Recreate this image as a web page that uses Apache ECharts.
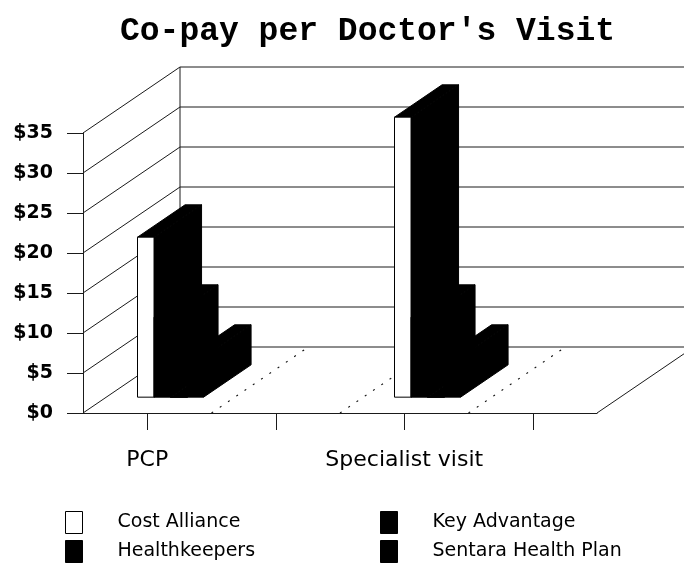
<!DOCTYPE html>
<html><head><meta charset="utf-8">
<script src="https://cdn.jsdelivr.net/npm/echarts@6/dist/echarts.min.js"></script>
<style>html,body{margin:0;padding:0;background:#fff}#c{width:684px;height:565px}</style>
</head><body><div id="c"></div>
<script>
// ---- data ----
const titleText = "Co-pay per Doctor's Visit";
const categories = ['PCP', '', 'Specialist visit', ''];
const seriesNames = ['Cost Alliance', 'Key Advantage', 'Healthkeepers', 'Sentara Health Plan'];
const costAlliance = [20, null, 35, null];
const keyAdvantage = [10, null, 10, null];
const healthkeepers = [0, null, 0, null];
const sentaraHealthPlan = [5, null, 5, null];
const yTicks = [0, 5, 10, 15, 20, 25, 30, 35];

// ---- style / geometry ----
const DX = 97, DY = -66;          // full depth projection offset
const BD0 = 0.24, BD1 = 0.73;     // bar depth range (fraction of full depth)
const GROUP = 0.514;              // bar group width (fraction of category slot)
const LINE = '#1a1a1a';
const faceColors = ['#ffffff', '#000000', '#000000', '#000000'];
const seriesValues = [costAlliance, keyAdvantage, healthkeepers, sentaraHealthPlan];

function wallRender(params, api) {
  const v = api.value(1);
  const slot = api.size([1, 0])[0];
  const p = api.coord([0, v]);
  const xl = p[0] - slot / 2;
  const xr = api.coord([categories.length - 1, v])[0] + slot / 2;
  const y = p[1];
  const st = { stroke: LINE, lineWidth: 1, fill: null };
  const ch = [];
  ch.push({ type: 'line', shape: { x1: xl, y1: y, x2: xl + DX, y2: y + DY }, style: st });
  ch.push({ type: 'line', shape: { x1: xl + DX, y1: y + DY, x2: xr + DX + 200, y2: y + DY }, style: st });
  if (v === yTicks[0]) {
    ch.push({ type: 'line', shape: { x1: xr, y1: y, x2: xr + DX, y2: y + DY }, style: st });
    const yTop = api.coord([0, yTicks[yTicks.length - 1]])[1];
    ch.push({ type: 'line', shape: { x1: xl + DX, y1: yTop + DY, x2: xl + DX, y2: y + DY }, style: st });
    for (let k = 1; k < categories.length; k++) {
      ch.push({ type: 'line', shape: { x1: xl + k * slot, y1: y, x2: xl + k * slot + DX, y2: y + DY },
        style: { stroke: '#111', lineWidth: 1.2, lineDash: [2, 8], fill: null } });
    }
  }
  return { type: 'group', children: ch };
}

function barRender(idx) {
  return function (params, api) {
    const c = api.value(0), v = api.value(1);
    const base = api.coord([c, 0]);
    const top = api.coord([c, v]);
    const slot = api.size([1, 0])[0];
    const bw = slot * GROUP / 4;
    const x0 = base[0] - slot * GROUP / 2 + idx * bw, x1 = x0 + bw;
    const fx = BD0 * DX, fy = BD0 * DY, bx = BD1 * DX, by = BD1 * DY;
    const yb = base[1], yt = top[1];
    const st = (fill) => ({ fill: fill, stroke: '#000', lineWidth: 1 });
    return { type: 'group', children: [
      { type: 'polygon', shape: { points: [[x1 + fx, yb + fy], [x1 + bx, yb + by], [x1 + bx, yt + by], [x1 + fx, yt + fy]] }, style: st('#000') },
      { type: 'polygon', shape: { points: [[x0 + fx, yt + fy], [x1 + fx, yt + fy], [x1 + bx, yt + by], [x0 + bx, yt + by]] }, style: st('#000') },
      { type: 'polygon', shape: { points: [[x0 + fx, yb + fy], [x1 + fx, yb + fy], [x1 + fx, yt + fy], [x0 + fx, yt + fy]] }, style: st(faceColors[idx]) }
    ] };
  };
}

const series = [{
  name: 'walls', type: 'custom', silent: true, z: 1,
  data: yTicks.map(v => [0, v]), renderItem: wallRender
}];
seriesNames.forEach((n, i) => {
  const d = [];
  seriesValues[i].forEach((v, c) => { if (v !== null) d.push([c, v]); });
  series.push({
    name: n, type: 'custom', z: 2 + i, silent: true,
    itemStyle: { color: faceColors[i], borderColor: '#000', borderWidth: 1 },
    data: d, renderItem: barRender(i)
  });
});

const sans = 'DejaVu Sans';
const legendItem = (i) => ({ name: seriesNames[i], itemStyle: { color: faceColors[i], borderColor: '#000', borderWidth: 1 } });
function makeLegend(left, items) {
  return {
    orient: 'vertical', left: left, top: 506, width: 260, height: 60,
    itemWidth: 17, itemHeight: 22, itemGap: 6,
    icon: 'rect', selectedMode: false,
    textStyle: { fontFamily: sans, fontSize: 19, color: '#000', padding: [0, 0, 0, 30] },
    data: items
  };
}

const chart = echarts.init(document.getElementById('c'), null, { renderer: 'canvas' });
chart.setOption({
  animation: false,
  backgroundColor: '#fff',
  title: { text: titleText, left: 115, top: 10,
    textStyle: { fontFamily: 'Liberation Mono', fontWeight: 'bold', fontSize: 33, color: '#000' } },
  legend: [
    makeLegend(60, [legendItem(0), legendItem(2)]),
    makeLegend(375, [legendItem(1), legendItem(3)])
  ],
  grid: { left: 83, top: 133, width: 514, height: 280, containLabel: false },
  xAxis: {
    type: 'category', data: categories, boundaryGap: true,
    axisLine: { show: true, lineStyle: { color: LINE, width: 1 } },
    axisTick: { show: true, alignWithLabel: true, interval: 0, length: 17, lineStyle: { color: LINE } },
    axisLabel: { interval: 0, margin: 36, fontFamily: sans, fontSize: 22, color: '#000' },
    splitLine: { show: false }
  },
  yAxis: {
    type: 'value', min: 0, max: 35, interval: 5,
    axisLine: { show: true, lineStyle: { color: LINE, width: 1 } },
    axisTick: { show: true, length: 16, lineStyle: { color: LINE } },
    axisLabel: { margin: 30, formatter: v => '$' + v, fontFamily: sans, fontWeight: 'bold', fontSize: 19, color: '#000' },
    splitLine: { show: false }
  },
  series: series
});
</script>
</body></html>
